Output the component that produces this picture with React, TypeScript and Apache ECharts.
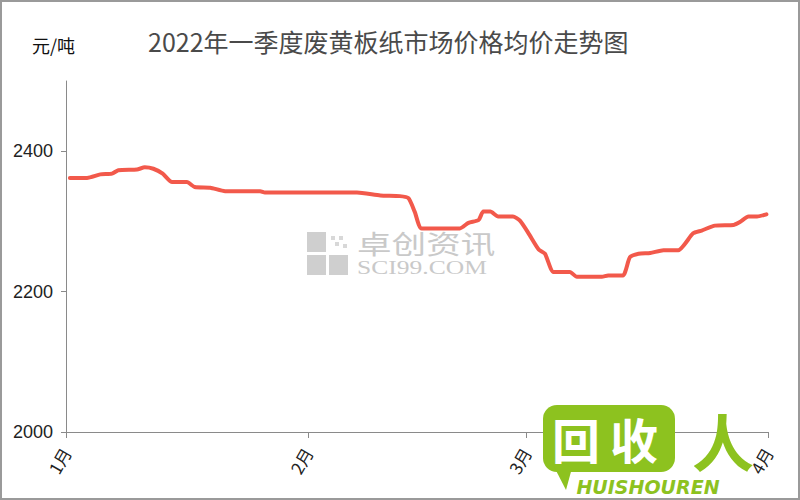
import React, { useEffect, useRef } from "react";
import * as echarts from "echarts";

const titleText = "2022年一季度废黄板纸市场价格均价走势图";
const unitText = "元/吨";
const monthLabels = ["1月", "2月", "3月", "4月"];
const monthStartDays = [0, 31, 59, 90];
const yTicks = [2000, 2200, 2400];

// day offset from Jan 1 (fractional), price in 元/吨
const dayIndex = [
  0.5, 2.7, 4.4, 5.9, 6.7, 9.1, 10.1, 11.2, 12.4, 13.6, 15.5, 16.5, 18.5, 20.4, 24.9, 25.5,
  37.3, 40.3, 42.8, 43.9, 44.7, 45.6, 50.5, 51.6, 52.9, 53.5, 54.4, 55.4, 57.3, 58.2, 59.3,
  60.6, 61.4, 62.5, 64.6, 65.5, 68.7, 69.5, 71.4, 72.3, 73.4, 74.9, 76.6, 78.5, 80.4, 81.5,
  83.2, 85.6, 86.4, 87.5, 88.6, 89.8,
];
const prices = [
  2362, 2362, 2367, 2368, 2373, 2374, 2377, 2375, 2368, 2356, 2356, 2349, 2348, 2343, 2343, 2341,
  2341, 2337, 2336, 2333, 2314, 2290, 2290, 2298, 2302, 2314, 2314, 2307, 2307, 2301, 2283,
  2260, 2254, 2228, 2228, 2221, 2221, 2223, 2223, 2249, 2254, 2255, 2259, 2259, 2283, 2287,
  2294, 2295, 2299, 2307, 2307, 2310,
];

export default function App() {
  const ref = useRef<HTMLDivElement>(null);
  useEffect(() => {
    document.body.style.margin = "0";
    const chart = echarts.init(ref.current!, null, { renderer: "svg" });
    const seriesData = dayIndex.map((d, i) => [d, prices[i]]);
    chart.setOption({
      animation: false,
      backgroundColor: "#ffffff",
      grid: { left: 66, right: 32, top: 81, bottom: 68 },
      xAxis: {
        type: "value",
        min: 0,
        max: 90,
        axisLine: { show: true, lineStyle: { color: "#8a8a8a", width: 1 } },
        axisTick: { show: true, length: 6, customValues: monthStartDays, lineStyle: { color: "#8a8a8a" } },
        axisLabel: {
          customValues: monthStartDays,
          formatter: (v: number) => monthLabels[monthStartDays.indexOf(v)] ?? "",
          rotate: 60,
          margin: 17,
          color: "#222",
          fontSize: 17,
          fontFamily: "Noto Sans CJK SC",
        },
        splitLine: { show: false },
      },
      yAxis: {
        type: "value",
        min: 2000,
        max: 2500,
        axisLine: { show: true, lineStyle: { color: "#8a8a8a", width: 1 } },
        axisTick: { show: true, length: 5, customValues: yTicks, lineStyle: { color: "#8a8a8a" } },
        axisLabel: {
          customValues: yTicks,
          formatter: (v: number) => String(v),
          margin: 13,
          color: "#222",
          fontSize: 18,
          fontFamily: "Liberation Sans",
        },
        splitLine: { show: false },
      },
      series: [
        {
          type: "line",
          data: seriesData,
          smooth: 0.2,
          symbol: "none",
          z: 5,
          lineStyle: { color: "#f2594b", width: 4, cap: "round", join: "round" },
        },
      ],
      graphic: [
        {
          type: "rect",
          z: 200,
          shape: { x: 1, y: 1, width: 798, height: 498 },
          style: { fill: "none", stroke: "#9a9a9a", lineWidth: 2 },
          silent: true,
        },
        {
          type: "text",
          z: 10,
          x: 148,
          y: 41,
          style: {
            text: titleText,
            fill: "#4a4a4a",
            font: "25px 'Noto Sans CJK SC'",
            textVerticalAlign: "middle",
          },
        },
        {
          type: "text",
          z: 10,
          x: 32,
          y: 45,
          style: {
            text: unitText,
            fill: "#111",
            font: "18px 'Noto Sans CJK SC'",
            textVerticalAlign: "middle",
          },
        },
        // watermark
        {
          type: "group",
          z: 1,
          children: [
            { type: "rect", z: 1, shape: { x: 307, y: 232, width: 19, height: 20 }, style: { fill: "#cfcfcf" } },
            { type: "rect", z: 1, shape: { x: 307, y: 255, width: 19, height: 20 }, style: { fill: "#cfcfcf" } },
            { type: "rect", z: 1, shape: { x: 329, y: 255, width: 19, height: 20 }, style: { fill: "#cfcfcf" } },
            { type: "rect", z: 1, shape: { x: 331, y: 236, width: 4, height: 4 }, style: { fill: "#d8d8d8" } },
            { type: "rect", z: 1, shape: { x: 339, y: 236, width: 4, height: 4 }, style: { fill: "#d8d8d8" } },
            { type: "rect", z: 1, shape: { x: 335, y: 242, width: 4, height: 4 }, style: { fill: "#d8d8d8" } },
            { type: "rect", z: 1, shape: { x: 343, y: 244, width: 4, height: 4 }, style: { fill: "#d8d8d8" } },
            {
              type: "text",
              z: 1,
              x: 357,
              y: 243,
              scaleX: 1.33,
              style: { text: "卓创资讯", fill: "#c9c9c9", font: "26px 'Noto Sans CJK SC'", lineHeight: 26, textVerticalAlign: "middle" },
            },
            {
              type: "text",
              z: 1,
              x: 357,
              y: 268,
              scaleX: 1.42,
              style: { text: "SCI99.COM", fill: "#c9c9c9", font: "18px 'Liberation Serif'", lineHeight: 18, textVerticalAlign: "middle" },
            },
          ],
        },
        // logo
        {
          type: "group",
          z: 100,
          children: [
            {
              type: "rect",
              z: 100,
              shape: { x: 543, y: 405, width: 132, height: 67, r: 14 },
              style: { fill: "#8dc21f" },
            },
            {
              type: "polygon",
              z: 100,
              shape: { points: [[548, 455], [572, 468], [566, 490]] },
              style: { fill: "#8dc21f" },
            },
            {
              type: "text",
              z: 101,
              x: 576,
              y: 438,
              style: { text: "回", fill: "#ffffff", font: "bold 48px 'Noto Sans CJK SC'", textAlign: "center", textVerticalAlign: "middle" },
            },
            {
              type: "text",
              z: 101,
              x: 634,
              y: 438,
              style: { text: "收", fill: "#ffffff", font: "bold 48px 'Noto Sans CJK SC'", textAlign: "center", textVerticalAlign: "middle" },
            },
            {
              type: "text",
              z: 101,
              x: 723,
              y: 440,
              style: { text: "人", fill: "#8dc21f", font: "bold 62px 'Noto Sans CJK SC'", textAlign: "center", textVerticalAlign: "middle" },
            },
            {
              type: "text",
              z: 101,
              x: 648,
              y: 487,
              style: { text: "HUISHOUREN", fill: "#8dc21f", font: "italic bold 19px 'DejaVu Sans'", textAlign: "center", textVerticalAlign: "middle" },
            },
          ],
        },
      ],
    });
    return () => chart.dispose();
  }, []);
  return <div ref={ref} style={{ width: 800, height: 500 }} />;
}
